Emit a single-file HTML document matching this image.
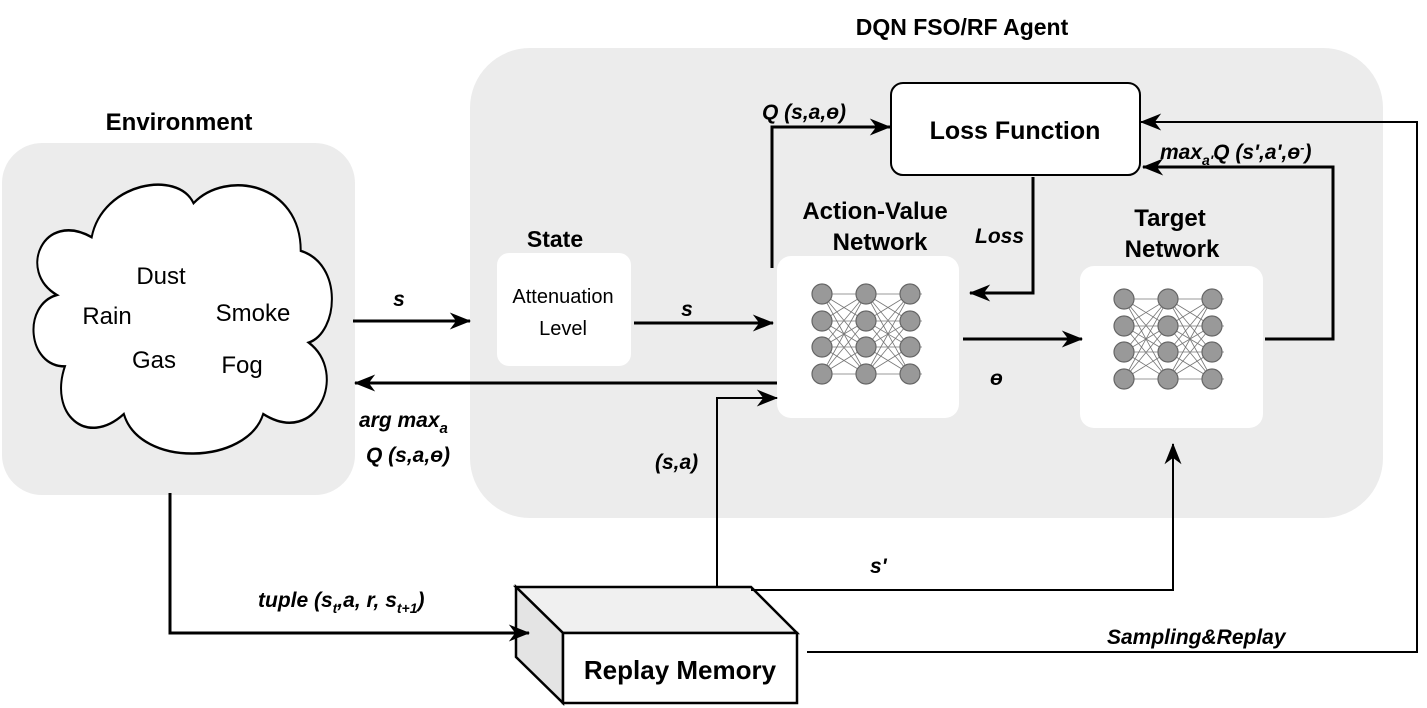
<!DOCTYPE html>
<html><head><style>body{margin:0;background:#fff}svg{display:block}text{font-family:"Liberation Sans",Arial,sans-serif}</style></head>
<body>
<svg width="1427" height="708" viewBox="0 0 1427 708" xmlns="http://www.w3.org/2000/svg">
<defs>
<marker id="a" viewBox="0 0 20 16" refX="19" refY="8" markerWidth="22" markerHeight="17" orient="auto" markerUnits="userSpaceOnUse">
<path d="M0,0 L20,8 L0,16 L6,8 Z" fill="#000"/></marker>
<g id="nn">
<g stroke="#777" stroke-width="0.8">
<line x1="-8" y1="0" x2="100" y2="0"/><line x1="-8" y1="27" x2="100" y2="27"/><line x1="-8" y1="53" x2="100" y2="53"/><line x1="-8" y1="80" x2="100" y2="80"/>
<path d="M0,0L44,27M0,0L44,53M0,0L44,80M0,27L44,0M0,27L44,53M0,27L44,80M0,53L44,0M0,53L44,27M0,53L44,80M0,80L44,0M0,80L44,27M0,80L44,53"/>
<path d="M44,0L88,27M44,0L88,53M44,0L88,80M44,27L88,0M44,27L88,53M44,27L88,80M44,53L88,0M44,53L88,27M44,53L88,80M44,80L88,0M44,80L88,27M44,80L88,53"/>
</g>
<g fill="#999" stroke="#666" stroke-width="1.2">
<circle cx="0" cy="0" r="10"/><circle cx="0" cy="27" r="10"/><circle cx="0" cy="53" r="10"/><circle cx="0" cy="80" r="10"/>
<circle cx="44" cy="0" r="10"/><circle cx="44" cy="27" r="10"/><circle cx="44" cy="53" r="10"/><circle cx="44" cy="80" r="10"/>
<circle cx="88" cy="0" r="10"/><circle cx="88" cy="27" r="10"/><circle cx="88" cy="53" r="10"/><circle cx="88" cy="80" r="10"/>
</g></g>
</defs>
<rect x="470" y="48" width="913" height="470" rx="60" fill="#ececec"/>
<rect x="2" y="143" width="353" height="352" rx="40" fill="#ececec"/>
<text x="962" y="35" font-size="23" font-weight="bold" text-anchor="middle">DQN FSO/RF Agent</text>
<text x="179" y="130" font-size="24" font-weight="bold" text-anchor="middle">Environment</text>
<path transform="translate(22,176) scale(2.68,3.4)" d="M16,56 C2,56 0,38 13,35 C-2,28 8,10 26,18 C30,2 58,-2 64,8 C76,-2 104,2 104,22 C120,26 118,46 107,49 C122,58 110,80 90,70 C84,85 44,86 38,70 C24,80 10,70 16,56 Z" fill="#fff" stroke="#000" stroke-width="0.75"/>
<g font-size="24" text-anchor="middle">
<text x="161" y="284">Dust</text><text x="107" y="324">Rain</text><text x="253" y="321">Smoke</text><text x="154" y="368">Gas</text><text x="242" y="373">Fog</text>
</g>
<text x="555" y="247" font-size="23" font-weight="bold" text-anchor="middle">State</text>
<rect x="497" y="253" width="134" height="113" rx="12" fill="#fff"/>
<text x="563" y="303" font-size="20" text-anchor="middle">Attenuation</text>
<text x="563" y="335" font-size="20" text-anchor="middle">Level</text>
<text x="875" y="219" font-size="24" font-weight="bold" text-anchor="middle">Action-Value</text>
<text x="880" y="250" font-size="24" font-weight="bold" text-anchor="middle">Network</text>
<rect x="777" y="256" width="182" height="162" rx="14" fill="#fff"/>
<use href="#nn" x="822" y="294"/>
<text x="1170" y="226" font-size="24" font-weight="bold" text-anchor="middle">Target</text>
<text x="1172" y="257" font-size="24" font-weight="bold" text-anchor="middle">Network</text>
<rect x="1080" y="266" width="183" height="162" rx="14" fill="#fff"/>
<use href="#nn" x="1124" y="299"/>
<rect x="891" y="83" width="249" height="92" rx="12" fill="#fff" stroke="#000" stroke-width="2"/>
<text x="1015" y="139" font-size="25" font-weight="bold" text-anchor="middle">Loss Function</text>
<path d="M516,587 L751,587 L797,633 L563,633 Z" fill="#f0f0f0" stroke="#000" stroke-width="2.5"/>
<path d="M516,587 L563,633 L563,703 L516,657 Z" fill="#e4e4e4" stroke="#000" stroke-width="2.5"/>
<rect x="563" y="633" width="234" height="70" fill="#fff" stroke="#000" stroke-width="2.5"/>
<text x="680" y="679" font-size="26" font-weight="bold" text-anchor="middle">Replay Memory</text>
<g stroke="#000" stroke-width="3" fill="none" marker-end="url(#a)">
<line x1="353" y1="321" x2="470" y2="321"/>
<line x1="634" y1="323" x2="773" y2="323"/>
<line x1="777" y1="383" x2="355" y2="383"/>
<polyline points="772,268 772,127 890,127"/>
<polyline points="1033,177 1033,293 970,293"/>
<line x1="963" y1="339" x2="1082" y2="339"/>
<polyline points="1265,339 1333,339 1333,167 1143,167"/>
<polyline points="170,493 170,633 529,633"/>
<polyline points="717,587 717,398 777,398" stroke-width="2"/>
<polyline points="751,590 1173,590 1173,444" stroke-width="2"/>
<polyline points="807,652 1417,652 1417,122 1141,122" stroke-width="2"/>
</g>
<g font-size="21" font-weight="bold" font-style="italic">
<text x="399" y="306" text-anchor="middle">s</text>
<text x="687" y="316" text-anchor="middle">s</text>
<text x="359" y="427">arg max<tspan font-size="15" dy="6">a</tspan></text>
<text x="366" y="462">Q (s,a,ɵ)</text>
<text x="762" y="119">Q (s,a,ɵ)</text>
<text x="975" y="243">Loss</text>
<text x="990" y="385">ɵ</text>
<text x="1160" y="159">max<tspan font-size="14" dy="6">a'</tspan><tspan dy="-6">Q (s',a',ɵ</tspan><tspan font-size="13" dy="-7">-</tspan><tspan dy="7">)</tspan></text>
<text x="655" y="469">(s,a)</text>
<text x="870" y="573">s'</text>
<text x="258" y="607">tuple (s<tspan font-size="14" dy="6">t</tspan><tspan dy="-6">,a, r, s</tspan><tspan font-size="14" dy="6">t+1</tspan><tspan dy="-6">)</tspan></text>
<text x="1107" y="644">Sampling&amp;Replay</text>
</g>
</svg>
</body></html>
